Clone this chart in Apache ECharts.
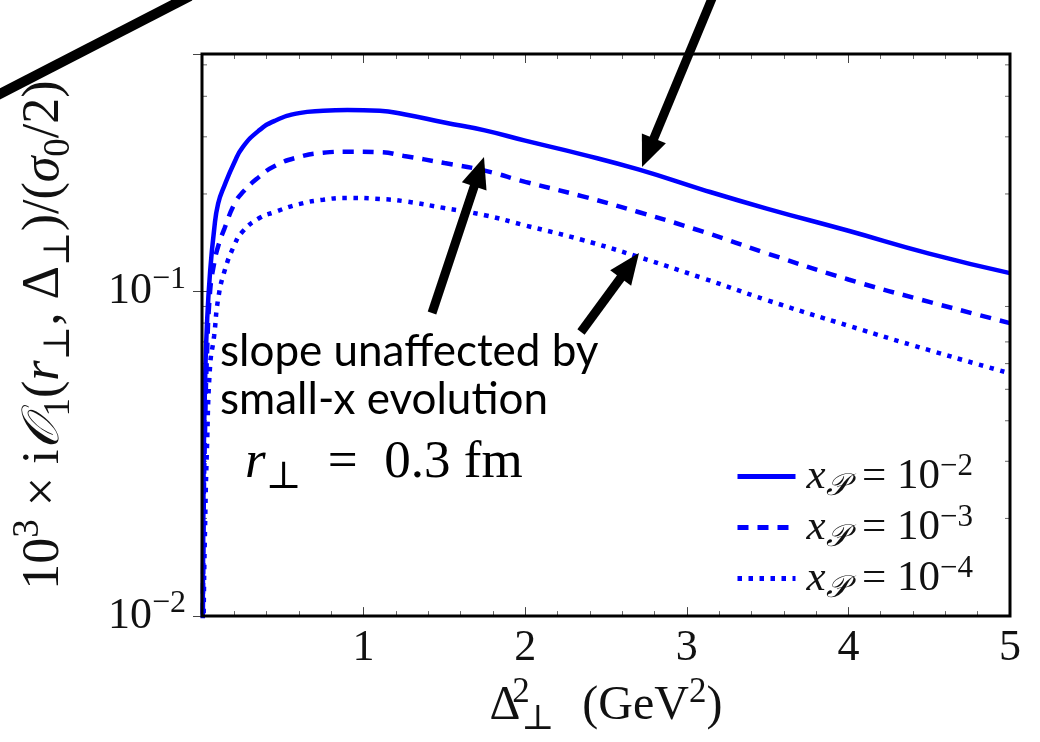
<!DOCTYPE html>
<html>
<head>
<meta charset="utf-8">
<script src="https://cdn.jsdelivr.net/npm/echarts@6/dist/echarts.min.js"></script>
<style>
  html, body { margin: 0; padding: 0; background: #fff; }
  #chart { width: 1040px; height: 742px; }
</style>
</head>
<body>
<div id="chart"></div>
<script>
// Δ⊥² sampling points (GeV²)
const deltaSq = [0.002, 0.01, 0.02, 0.03, 0.05, 0.075, 0.1, 0.14, 0.2, 0.25, 0.35, 0.45,
                 0.6, 0.75, 0.9, 1.1, 1.25, 1.5, 1.75, 2.0, 2.35, 2.7, 3.1, 3.5, 4.0, 4.5, 5.0];
// 10^3 x iO1 / (sigma0/2) for r⊥ = 0.3 fm
const odderonXp2 = [0.006, 0.028, 0.055, 0.078, 0.115, 0.155, 0.187, 0.213, 0.250, 0.278, 0.313, 0.336,
                    0.355, 0.361, 0.363, 0.361, 0.352, 0.332, 0.314, 0.292, 0.265, 0.238, 0.206, 0.180, 0.154, 0.131, 0.114];
const odderonXp3 = [0.005, 0.020, 0.040, 0.062, 0.100, 0.122, 0.138, 0.157, 0.186, 0.202, 0.225, 0.244,
                    0.260, 0.268, 0.270, 0.269, 0.262, 0.249, 0.236, 0.218, 0.197, 0.176, 0.153, 0.131, 0.109, 0.093, 0.080];
const odderonXp4 = [0.004, 0.010, 0.020, 0.032, 0.059, 0.073, 0.095, 0.116, 0.139, 0.153, 0.168, 0.176,
                    0.186, 0.192, 0.1945, 0.193, 0.190, 0.181, 0.172, 0.160, 0.1445, 0.128, 0.110, 0.094, 0.0785, 0.066, 0.056];
const seriesNames = ['xP = 1e-2', 'xP = 1e-3', 'xP = 1e-4'];
const legendExponents = ['−2', '−3', '−4'];
// minor ticks of the logarithmic axis
const yMinorTicks = [0.02, 0.03, 0.04, 0.05, 0.06, 0.07, 0.08, 0.09, 0.2, 0.3, 0.4, 0.5];

const SERIF = '"Liberation Serif", "DejaVu Serif", serif';
const BLUE = '#0000ff';
const INK = '#111';

function mathStyles(size, lineH) {
  const lh = lineH || Math.round(size * 1.3);
  const small = Math.round(size * 0.72);
  return {
    n:   { fontFamily: SERIF, fontSize: size, color: INK, lineHeight: lh },
    it:  { fontFamily: SERIF, fontSize: size, color: INK, lineHeight: lh, fontStyle: 'italic' },
    sup: { fontFamily: SERIF, fontSize: small, color: INK, lineHeight: small + 2, verticalAlign: 'top' },
    // superscript that takes no horizontal room, so the following subscript stacks under it
    supz: { fontFamily: SERIF, fontSize: small, color: INK, lineHeight: small + 2, verticalAlign: 'top', width: 1 },
    sub: { fontFamily: SERIF, fontSize: small, color: INK, lineHeight: small + 2, verticalAlign: 'bottom' },
    subit: { fontFamily: SERIF, fontSize: small, color: INK, lineHeight: small + 2, verticalAlign: 'bottom', fontStyle: 'italic' }
  };
}

function pts(values) {
  return deltaSq.map((x, i) => [x, values[i]]);
}

function arrow(x1, y1, x2, y2) {
  const dx = x2 - x1, dy = y2 - y1, L = Math.hypot(dx, dy);
  const ux = dx / L, uy = dy / L, hl = 31, hw = 13;
  const bx = x2 - ux * hl, by = y2 - uy * hl;
  return [
    { type: 'line', shape: { x1: x1, y1: y1, x2: bx + ux * 4, y2: by + uy * 4 },
      style: { stroke: '#000', lineWidth: 9 }, z: 100 },
    { type: 'polygon', shape: { points: [[x2, y2], [bx - uy * hw, by + ux * hw], [bx + uy * hw, by - ux * hw]] },
      style: { fill: '#000' }, z: 100 }
  ];
}

const lineStyles = [
  { color: BLUE, width: 4.5, type: 'solid' },
  { color: BLUE, width: 4.5, type: [11, 9], cap: 'butt' },
  { color: BLUE, width: 4.5, type: [4.5, 6.5], cap: 'butt' }
];
const lineData = [odderonXp2, odderonXp3, odderonXp4];

const chart = echarts.init(document.getElementById('chart'), null, { renderer: 'canvas' });

const axisCommonX = {
  type: 'value', min: 0, max: 5, interval: 1,
  axisLine: { show: false },
  splitLine: { show: false },
  axisTick: { show: true, inside: true, length: 9, lineStyle: { color: '#444', width: 1 } },
  minorTick: { show: true, splitNumber: 5, length: 5, lineStyle: { color: '#666', width: 1 } }
};
const axisCommonY = {
  type: 'log', logBase: 10, min: 0.01, max: 0.54,
  axisLine: { show: false },
  splitLine: { show: false },
  axisTick: { show: true, inside: true, length: 9, lineStyle: { color: '#444', width: 1 } }
};

const option = {
  backgroundColor: '#fff',
  animation: false,
  grid: { left: 202, top: 54, right: 30, bottom: 125, show: true, borderColor: '#000', borderWidth: 3, backgroundColor: 'transparent', z: 5 },
  xAxis: [
    Object.assign({}, axisCommonX, {
      position: 'bottom',
      axisLabel: {
        show: true, margin: 10, fontFamily: SERIF, fontSize: 44, color: INK,
        showMinLabel: false
      },
      name: '{n|Δ}{supz|2}{sub|⊥}{n|\u2004 (GeV}{sup|2}{n|)}',
      nameLocation: 'middle', nameGap: 50,
      nameTextStyle: { rich: mathStyles(48) }
    }),
    Object.assign({}, axisCommonX, { position: 'top', axisLabel: { show: false } })
  ],
  yAxis: [
    Object.assign({}, axisCommonY, {
      position: 'left',
      axisLabel: {
        show: true, margin: 16,
        formatter: function (v) {
          const e = Math.log10(v);
          if (Math.abs(e - Math.round(e)) > 1e-6 || Math.round(e) >= 0) return '';
          return '{n|10}{sup|−' + Math.abs(Math.round(e)) + '}';
        },
        rich: mathStyles(44)
      },
      name: '{n|10}{sup|3}{n| × i}{it|𝒪}{sub|1}{n|(}{it|r}{sub|⊥}{n|, Δ}{sub|⊥}{n|)/(}{it|σ}{sub|0}{n|/2)}',
      nameLocation: 'middle', nameRotate: 90, nameGap: 124,
      nameTextStyle: { rich: mathStyles(52) }
    }),
    Object.assign({}, axisCommonY, { position: 'right', axisLabel: { show: false } })
  ],
  legend: {
    show: true,
    orient: 'vertical',
    left: 730, top: 446,
    itemWidth: 58, itemHeight: 2, itemGap: 0,
    data: seriesNames,
    lineStyle: { width: 5 },
    itemStyle: { opacity: 0 },
    formatter: function (name) {
      const k = seriesNames.indexOf(name);
      return '{it|x}{subit|𝒫}{n|\u2004= 10}{sup|' + legendExponents[k] + '}';
    },
    textStyle: { padding: [0, 0, 0, 6], rich: mathStyles(43, 51) }
  },
  series: lineData.map((vals, i) => ({
    name: seriesNames[i],
    type: 'line',
    xAxisIndex: 0, yAxisIndex: 0,
    data: pts(vals),
    showSymbol: false, symbol: 'none',
    smooth: 0.5,
    clip: true,
    lineStyle: lineStyles[i],
    itemStyle: { color: BLUE },
    z: 3
  })).concat([{
    name: 'minor',
    type: 'custom',
    xAxisIndex: 0, yAxisIndex: 0,
    silent: true,
    data: yMinorTicks.map(v => [0, v]),
    renderItem: function (params, api) {
      const cs = params.coordSys;
      const p = api.coord([api.value(0), api.value(1)]);
      const st = { stroke: '#666', lineWidth: 1 };
      return {
        type: 'group',
        children: [
          { type: 'line', shape: { x1: cs.x, y1: p[1], x2: cs.x + 5, y2: p[1] }, style: st },
          { type: 'line', shape: { x1: cs.x + cs.width - 5, y1: p[1], x2: cs.x + cs.width, y2: p[1] }, style: st }
        ]
      };
    },
    z: 2
  }]),
  graphic: [
    { type: 'line', shape: { x1: -6, y1: 97, x2: 190, y2: -4 }, style: { stroke: '#000', lineWidth: 10 }, z: 100 },
    ...arrow(432, 313, 484, 157),
    ...arrow(581, 332, 639, 253),
    ...arrow(713, -4, 642, 167),
    { type: 'text', x: 220, y: 352, z: 100,
      style: { text: 'slope unaffected by', font: '44px Lato', fill: '#000', align: 'left', verticalAlign: 'middle' } },
    { type: 'text', x: 220, y: 400, z: 100,
      style: { text: 'small-x evolution', font: '44px Lato', fill: '#000', align: 'left', verticalAlign: 'middle' } },
    { type: 'text', x: 245, y: 463, z: 100,
      style: { text: '{it|r}{sub|⊥}{n|  =  0.3 fm}', rich: mathStyles(53), align: 'left', verticalAlign: 'middle' } }
  ]
};

chart.setOption(option);
</script>
</body>
</html>
